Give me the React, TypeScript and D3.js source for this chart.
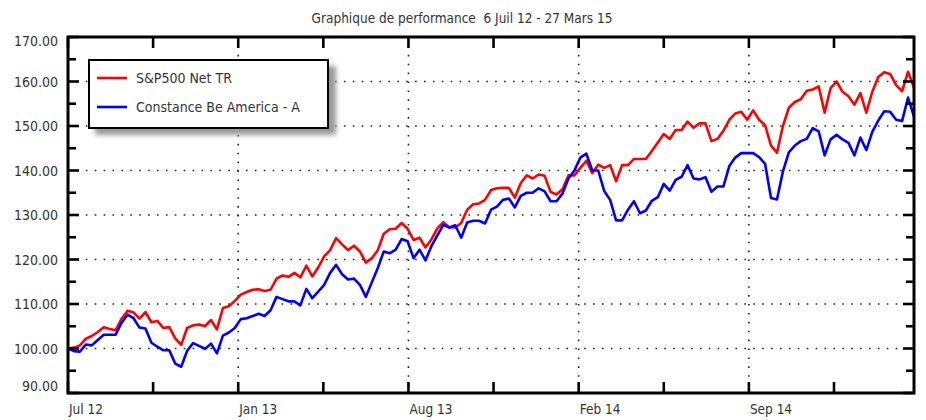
import React from "react";
import * as d3 from "d3";

// weekly closes, rebased to 100 on 6 Jul 2012
const sp500 = [
  100.0, 100.2, 100.7, 102.2, 102.8, 103.7, 104.8, 104.4, 104.1, 106.7,
  108.5, 108.1, 106.7, 108.2, 105.9, 106.2, 104.6, 104.8, 102.3, 100.8,
  104.6, 105.2, 105.4, 105.0, 106.4, 104.3, 109.1, 109.5, 110.7, 112.1,
  112.7, 113.2, 113.3, 112.9, 113.2, 115.7, 116.4, 116.1, 117.0, 116.0,
  118.6, 116.2, 118.2, 120.7, 122.1, 124.8, 123.4, 122.1, 123.1, 121.8,
  119.3, 120.3, 122.1, 125.8, 126.8, 126.9, 128.2, 126.9, 124.4, 124.9,
  122.7, 124.5, 127.0, 128.4, 127.2, 127.2, 128.2, 131.2, 132.4, 132.6,
  133.4, 135.6, 136.0, 136.1, 136.1, 133.9, 137.2, 138.9, 138.2, 139.1,
  138.8, 135.2, 134.6, 135.8, 138.9, 138.9, 140.6, 142.2, 139.4, 141.3,
  140.6, 141.2, 137.6, 141.2, 141.2, 142.6, 142.6, 142.6, 144.4, 146.3,
  148.2, 147.1, 149.1, 149.1, 151.0, 149.6, 150.6, 150.6, 146.6, 147.1,
  148.9, 151.4, 152.8, 153.2, 151.4, 153.5, 151.4, 150.2, 145.6, 144.0,
  150.0, 154.1, 155.4, 156.0, 157.9, 158.2, 158.9, 153.0, 158.5, 160.0,
  157.7, 156.7, 154.8, 157.4, 153.0, 157.7, 161.0, 162.1, 161.7, 159.2,
  157.8, 162.2, 158.6,
];

const constance = [
  100.0, 99.4, 99.3, 100.9, 100.7, 101.9, 103.1, 103.1, 103.1, 105.8,
  107.6, 106.8, 104.7, 104.5, 101.3, 100.4, 99.6, 99.6, 96.6, 95.9,
  99.5, 101.2, 100.6, 99.9, 101.1, 98.9, 102.9, 103.6, 104.6, 106.6,
  106.8, 107.3, 107.8, 107.3, 108.6, 111.6, 111.1, 110.6, 110.6, 109.7,
  113.4, 111.3, 112.8, 114.3, 117.0, 118.8, 116.7, 115.5, 115.7, 114.3,
  111.6, 114.9, 118.1, 121.8, 121.4, 122.2, 124.6, 124.1, 120.3, 122.2,
  119.8, 123.0, 125.4, 127.8, 127.2, 127.7, 124.9, 128.3, 128.7, 128.7,
  128.1, 131.2, 131.9, 133.4, 133.7, 131.7, 134.3, 135.0, 135.0, 136.0,
  135.3, 133.1, 133.1, 134.8, 138.2, 140.0, 142.9, 143.8, 140.0, 140.0,
  135.4, 133.4, 128.8, 128.8, 131.2, 133.1, 130.4, 131.0, 133.2, 134.0,
  137.0, 135.5, 137.9, 138.6, 141.2, 138.2, 138.0, 138.5, 135.2, 136.4,
  136.4, 141.0, 142.9, 143.9, 143.9, 143.9, 143.0, 141.5, 133.8, 133.5,
  139.8, 144.1, 145.6, 146.6, 147.1, 149.5, 148.8, 143.4, 147.0, 148.0,
  147.0, 146.2, 143.4, 147.4, 144.6, 148.7, 151.2, 153.3, 153.2, 151.4,
  151.1, 156.4, 152.1,
];

const seriesNames = ["S&P500 Net TR", "Constance Be America - A"];
const seriesColors = ["#ff0000", "#0000ff"];
const title = "Graphique de performance  6 Juil 12 - 27 Mars 15";

const startDate = new Date(2012, 6, 6);
const endDate = new Date(2015, 2, 27);
const tickStepDays = 100;
const yTicks = [90, 100, 110, 120, 130, 140, 150, 160, 170];

const W = 926;
const H = 420;
const left = 68, right = 914, top = 37, bottom = 393;
const font = "'DejaVu Sans Condensed', 'DejaVu Sans', sans-serif";

export default function App() {
  const dates = sp500.map((_, i) => d3.timeDay.offset(startDate, 7 * i));

  const x = d3.scaleTime().domain([startDate, endDate]).range([left, right]);
  const y = d3.scaleLinear().domain([90, 170]).range([bottom, top]);

  const xTicks = d3.range(0, 10).map((k) => ({
    date: d3.timeDay.offset(startDate, k * tickStepDays),
    major: k % 2 === 0,
    k,
  }));
  const yMinor = d3.range(95, 170, 10);
  const fmt = d3.timeFormat("%b %y");

  const line = d3
    .line<number>()
    .x((_, i) => x(dates[i]))
    .y((d) => y(d));

  const series = [sp500, constance];

  return (
    <div style={{ position: "absolute", left: 0, top: 0 }}>
      <svg width={W} height={H} style={{ display: "block", background: "#fff" }}>
        <defs>
          <filter id="shadow" x="-10%" y="-10%" width="130%" height="140%">
            <feGaussianBlur stdDeviation="2.5" />
          </filter>
        </defs>

        <text x={462} y={23} textAnchor="middle" fontFamily={font} fontSize={13.5} fill="#333"
          style={{ whiteSpace: "pre" }}>
          {title}
        </text>

        {/* dotted grid */}
        {yTicks.slice(1, -1).map((v) => (
          <line key={"gy" + v} x1={left} x2={right} y1={y(v)} y2={y(v)}
            stroke="#222" strokeWidth={1.6} strokeDasharray="1.6,7.3" />
        ))}
        {xTicks.filter((t) => t.major && t.k > 0).map((t) => (
          <line key={"gx" + t.k} x1={x(t.date)} x2={x(t.date)} y1={top} y2={bottom}
            stroke="#222" strokeWidth={1.6} strokeDasharray="1.6,7.3" />
        ))}

        {/* series */}
        {series.map((s, si) => (
          <path key={si} d={line(s) || ""} fill="none" stroke={seriesColors[si]}
            strokeWidth={2.6} strokeLinejoin="round" />
        ))}

        {/* frame */}
        <rect x={left} y={top} width={right - left} height={bottom - top}
          fill="none" stroke="#000" strokeWidth={3} />

        {/* y ticks on both sides */}
        {yTicks.map((v) => (
          <g key={"yt" + v}>
            <line x1={left} x2={left + 11} y1={y(v)} y2={y(v)} stroke="#000" strokeWidth={2.6} />
            <line x1={right} x2={right - 11} y1={y(v)} y2={y(v)} stroke="#000" strokeWidth={2.6} />
            <text x={58} y={Math.min(Math.max(y(v), 41), 386)} dy="0.36em" textAnchor="end"
              fontFamily={font} fontSize={14} fill="#333">
              {v.toFixed(2)}
            </text>
          </g>
        ))}
        {yMinor.map((v) => (
          <g key={"ym" + v}>
            <line x1={left} x2={left + 8} y1={y(v)} y2={y(v)} stroke="#000" strokeWidth={2.6} />
            <line x1={right} x2={right - 8} y1={y(v)} y2={y(v)} stroke="#000" strokeWidth={2.6} />
          </g>
        ))}

        {/* x ticks top & bottom */}
        {xTicks.map((t) => {
          const len = 11;
          const xp = x(t.date);
          return (
            <g key={"xt" + t.k}>
              <line x1={xp} x2={xp} y1={top} y2={top + len} stroke="#000" strokeWidth={2.6} />
              <line x1={xp} x2={xp} y1={bottom} y2={bottom - len} stroke="#000" strokeWidth={2.6} />
              {t.major && (
                <text x={xp + 1} y={414} fontFamily={font} fontSize={13.5} fill="#333">
                  {fmt(t.date)}
                </text>
              )}
            </g>
          );
        })}

        {/* legend */}
        <rect x={95} y={66} width={241} height={69} fill="#999" filter="url(#shadow)" />
        <rect x={89} y={60} width={239} height={68} fill="#fff" stroke="#000" strokeWidth={2} />
        {seriesNames.map((n, i) => (
          <g key={n}>
            <line x1={97} x2={127} y1={78 + i * 29} y2={78 + i * 29}
              stroke={seriesColors[i]} strokeWidth={2.6} />
            <text x={136} y={78 + i * 29} dy="0.36em" fontFamily={font} fontSize={14} fill="#333">
              {n}
            </text>
          </g>
        ))}
      </svg>
    </div>
  );
}
